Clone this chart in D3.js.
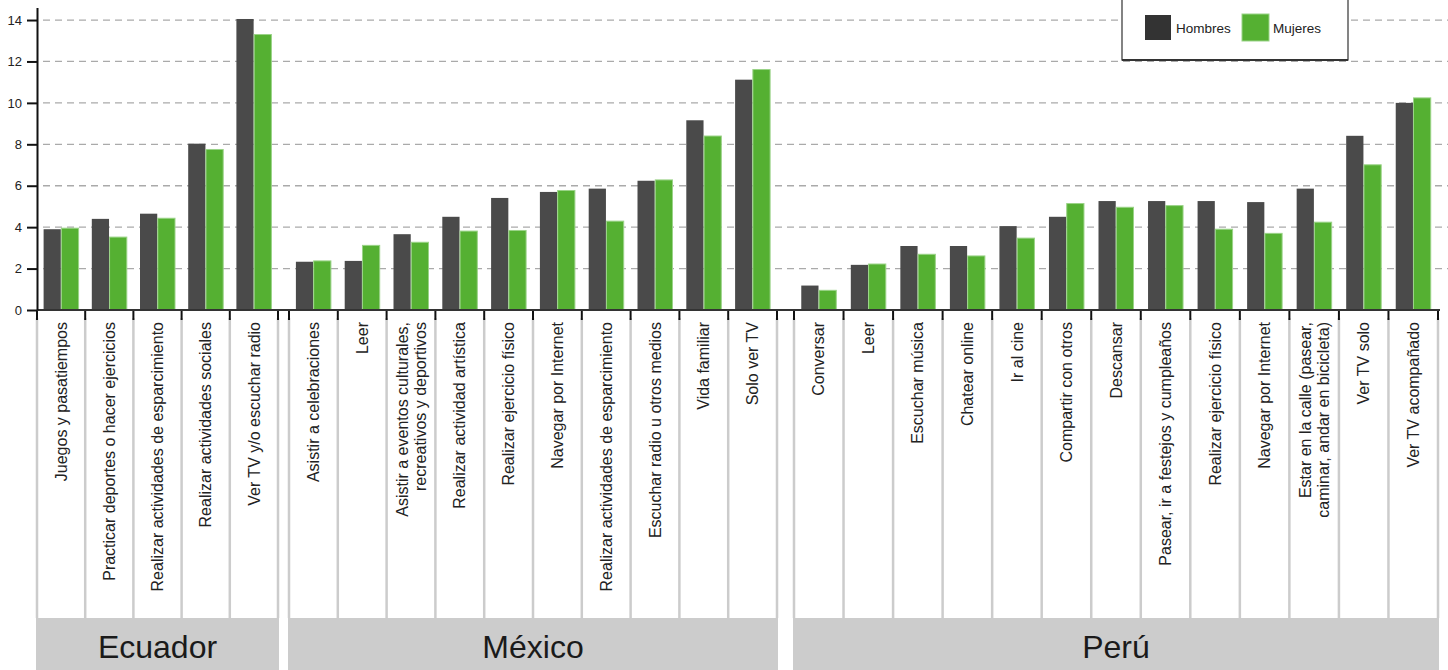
<!DOCTYPE html>
<html>
<head>
<meta charset="utf-8">
<script src="https://cdn.jsdelivr.net/npm/d3@7"></script>
<style>
  body { margin: 0; background: #fff; }
  svg { display: block; font-family: "Liberation Sans", Arial, sans-serif; }
</style>
</head>
<body>
<svg id="chart" width="1448" height="670"></svg>
<script>
// ---------- DATA ----------
const countries = ["Ecuador", "México", "Perú"];
const seriesNames = ["Hombres", "Mujeres"];
const yTicks = [0, 2, 4, 6, 8, 10, 12, 14];

const ecuadorActivities = [
  "Juegos y pasatiempos",
  "Practicar deportes o hacer ejercicios",
  "Realizar actividades de esparcimiento",
  "Realizar actividades sociales",
  "Ver TV y/o escuchar radio"
];
const ecuadorHombres = [3.9, 4.4, 4.65, 8.03, 14.05];
const ecuadorMujeres = [3.95, 3.52, 4.43, 7.75, 13.3];

const mexicoActivities = [
  "Asistir a celebraciones",
  "Leer",
  "Asistir a eventos culturales,|recreativos y deportivos",
  "Realizar actividad artística",
  "Realizar ejercicio físico",
  "Navegar por Internet",
  "Realizar actividades de esparcimiento",
  "Escuchar radio u otros medios",
  "Vida familiar",
  "Solo ver TV"
];
const mexicoHombres = [2.33, 2.37, 3.66, 4.5, 5.41, 5.7, 5.86, 6.24, 9.16, 11.12];
const mexicoMujeres = [2.37, 3.12, 3.27, 3.81, 3.84, 5.77, 4.29, 6.28, 8.4, 11.61];

const peruActivities = [
  "Conversar",
  "Leer",
  "Escuchar música",
  "Chatear online",
  "Ir al cine",
  "Compartir con otros",
  "Descansar",
  "Pasear, ir a festejos y cumpleaños",
  "Realizar ejercicio físico",
  "Navegar por Internet",
  "Estar en la calle (pasear,|caminar, andar en bicicleta)",
  "Ver TV solo",
  "Ver TV acompañado"
];
const peruHombres = [1.18, 2.18, 3.09, 3.09, 4.05, 4.5, 5.26, 5.26, 5.26, 5.21, 5.86, 8.41, 10.0];
const peruMujeres = [0.95, 2.22, 2.69, 2.61, 3.47, 5.14, 4.96, 5.04, 3.9, 3.7, 4.24, 7.01, 10.24];

// ---------- LAYOUT ----------
const colors = { Hombres: "#4a4a4a", Mujeres: "#55b032" };
const legendColors = { Hombres: "#333333", Mujeres: "#55b032" };
const groupRanges = [[37, 278], [289, 777], [794, 1438]];
const axisY0 = 310;
const svg = d3.select("#chart");

const groups = [
  { name: countries[0], acts: ecuadorActivities, h: ecuadorHombres, m: ecuadorMujeres },
  { name: countries[1], acts: mexicoActivities, h: mexicoHombres, m: mexicoMujeres },
  { name: countries[2], acts: peruActivities, h: peruHombres, m: peruMujeres }
];

const y = d3.scaleLinear().domain([0, 14.6]).range([axisY0, 7.6]);

// grid lines
svg.append("g")
  .selectAll("line")
  .data(yTicks.filter(d => d > 0))
  .join("line")
  .attr("x1", 43).attr("x2", 1448)
  .attr("y1", d => y(d)).attr("y2", d => y(d))
  .attr("stroke", "#aaaaaa")
  .attr("stroke-width", 1.3)
  .attr("stroke-dasharray", "7,5");

// per-group scales
groups.forEach((g, gi) => {
  const [gx0, gx1] = groupRanges[gi];
  const x = d3.scaleBand().domain(d3.range(g.acts.length)).range([gx0, gx1]);
  const bw = x.bandwidth();
  const inner = d3.scaleBand().domain(seriesNames).range([0, 35]).paddingInner(0.03);
  const off = (bw - 35) / 2;
  const gEl = svg.append("g");

  // separators
  const bounds = d3.range(g.acts.length + 1).map(i => i < g.acts.length ? x(i) : x(i - 1) + bw);
  gEl.selectAll("line.sep").data(bounds).join("line")
    .attr("class", "sep")
    .attr("x1", d => d).attr("x2", d => d)
    .attr("y1", 318).attr("y2", 618)
    .attr("stroke", "#cccccc").attr("stroke-width", 2.5);

  // ticks
  gEl.selectAll("line.tk").data(bounds).join("line")
    .attr("class", "tk")
    .attr("x1", d => d).attr("x2", d => d)
    .attr("y1", axisY0).attr("y2", 320)
    .attr("stroke", "#111").attr("stroke-width", 2);

  // bars
  const rows = g.acts.map((a, i) => ({ i, Hombres: g.h[i], Mujeres: g.m[i] }));
  rows.forEach(r => {
    seriesNames.forEach(s => {
      gEl.append("rect")
        .attr("x", x(r.i) + off + inner(s))
        .attr("y", y(r[s]))
        .attr("width", inner.bandwidth())
        .attr("height", axisY0 - y(r[s]))
        .attr("fill", colors[s])
        .attr("stroke", s === "Mujeres" ? "#9ad387" : "none")
        .attr("stroke-width", s === "Mujeres" ? 1 : 0);
    });
  });

  // category labels
  g.acts.forEach((a, i) => {
    const lines = a.split("|");
    const cx = x(i) + bw / 2;
    const t = gEl.append("text")
      .attr("transform", `translate(${cx},322) rotate(-90)`)
      .attr("text-anchor", "end")
      .attr("font-size", 16)
      .attr("fill", "#222");
    lines.forEach((ln, li) => {
      const dy = (li - (lines.length - 1) / 2) * 18;
      t.append("tspan").attr("x", 0).attr("y", dy).attr("dy", "0.35em").text(ln);
    });
  });

  // country box
  gEl.append("rect")
    .attr("x", gx0 - 1).attr("y", 618)
    .attr("width", gx1 - gx0 + 2).attr("height", 60)
    .attr("fill", "#cccccc");
  gEl.append("text")
    .attr("x", (gx0 + gx1) / 2).attr("y", 658)
    .attr("text-anchor", "middle")
    .attr("font-size", 32)
    .attr("fill", "#1a1a1a")
    .text(g.name);
});

// x axis baseline
svg.append("line")
  .attr("x1", 37).attr("x2", 1440)
  .attr("y1", axisY0).attr("y2", axisY0)
  .attr("stroke", "#333").attr("stroke-width", 2);

// y axis
const yAxis = d3.axisLeft(y).tickValues(yTicks).tickSize(10).tickPadding(5).tickSizeOuter(0);
const ya = svg.append("g").attr("transform", "translate(37,0)").call(yAxis);
ya.select(".domain").attr("stroke", "#111").attr("stroke-width", 2);
ya.selectAll(".tick line").attr("stroke", "#111").attr("stroke-width", 2);
ya.selectAll(".tick text").attr("font-size", 13).attr("fill", "#222")
  .attr("font-family", "'Liberation Sans', Arial, sans-serif");

// legend
const lg = svg.append("g");
lg.append("rect")
  .attr("x", 1122).attr("y", -5).attr("width", 226).attr("height", 65)
  .attr("fill", "#fff").attr("stroke", "#333").attr("stroke-width", 1.2);
lg.append("line").attr("x1", 1122).attr("x2", 1348).attr("y1", 60).attr("y2", 60)
  .attr("stroke", "#333").attr("stroke-width", 2);
const legendX = d3.scaleOrdinal().domain(seriesNames).range([1145, 1242]);
seriesNames.forEach(s => {
  lg.append("rect")
    .attr("x", legendX(s)).attr("y", s === "Mujeres" ? 14 : 15)
    .attr("width", s === "Mujeres" ? 27 : 26).attr("height", s === "Mujeres" ? 27 : 25)
    .attr("fill", legendColors[s])
    .attr("stroke", s === "Mujeres" ? "#9ad387" : "none");
  lg.append("text")
    .attr("x", legendX(s) + (s === "Mujeres" ? 31 : 31)).attr("y", 33)
    .attr("font-size", 13.5).attr("fill", "#222")
    .text(s);
});
</script>
</body>
</html>
